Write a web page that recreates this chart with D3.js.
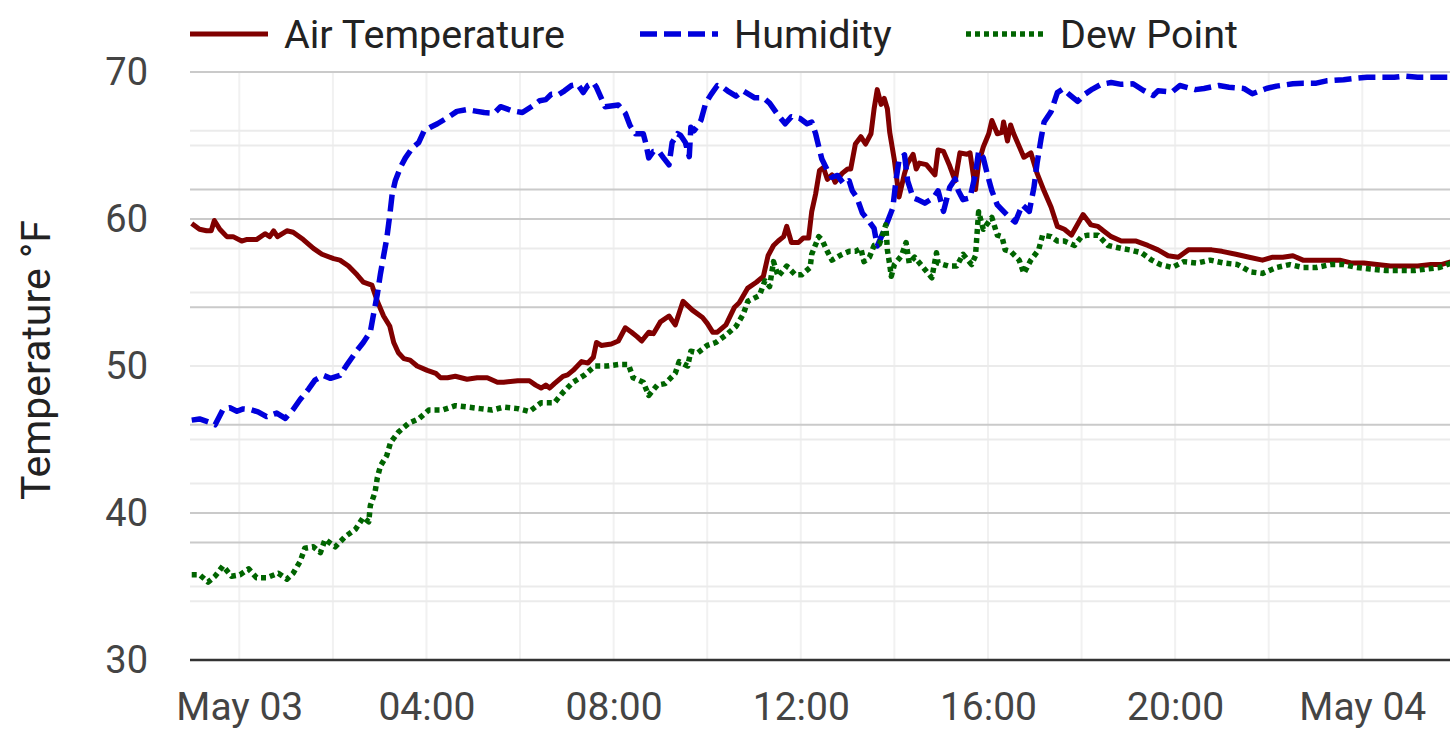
<!DOCTYPE html>
<html>
<head>
<meta charset="utf-8">
<script src="https://cdn.jsdelivr.net/npm/d3@7"></script>
<style>
  html, body { margin: 0; padding: 0; background: #fff; }
  svg { display: block; font-family: Roboto, "Noto Sans", sans-serif; }
</style>
</head>
<body>
<div id="chart"></div>
<script>
// readings: [time, value]
const airTemperature = [
  ["05-02 22:59", 59.7], ["05-02 23:09", 59.3], ["05-02 23:18", 59.2], ["05-02 23:24", 59.2],
  ["05-02 23:28", 59.9], ["05-02 23:35", 59.3], ["05-02 23:44", 58.8], ["05-02 23:52", 58.8],
  ["05-03 00:03", 58.5], ["05-03 00:09", 58.6], ["05-03 00:22", 58.6], ["05-03 00:33", 59.0],
  ["05-03 00:39", 58.8], ["05-03 00:44", 59.2], ["05-03 00:49", 58.8], ["05-03 01:01", 59.2],
  ["05-03 01:09", 59.1], ["05-03 01:22", 58.6], ["05-03 01:35", 58.0], ["05-03 01:46", 57.6],
  ["05-03 02:01", 57.3], ["05-03 02:09", 57.2], ["05-03 02:20", 56.8], ["05-03 02:31", 56.2],
  ["05-03 02:39", 55.7], ["05-03 02:50", 55.5], ["05-03 02:57", 54.4], ["05-03 03:05", 53.4],
  ["05-03 03:13", 52.7], ["05-03 03:18", 51.6], ["05-03 03:24", 50.9], ["05-03 03:31", 50.5],
  ["05-03 03:39", 50.4], ["05-03 03:48", 50.0], ["05-03 04:01", 49.7], ["05-03 04:12", 49.5],
  ["05-03 04:18", 49.2], ["05-03 04:27", 49.2], ["05-03 04:37", 49.3], ["05-03 04:52", 49.1],
  ["05-03 05:05", 49.2], ["05-03 05:18", 49.2], ["05-03 05:31", 48.9], ["05-03 05:39", 48.9],
  ["05-03 05:57", 49.0], ["05-03 06:12", 49.0], ["05-03 06:20", 48.7], ["05-03 06:27", 48.5],
  ["05-03 06:33", 48.7], ["05-03 06:38", 48.5], ["05-03 06:44", 48.8], ["05-03 06:55", 49.3],
  ["05-03 07:01", 49.4], ["05-03 07:08", 49.7], ["05-03 07:19", 50.3], ["05-03 07:27", 50.2],
  ["05-03 07:34", 50.6], ["05-03 07:38", 51.6], ["05-03 07:44", 51.4], ["05-03 07:57", 51.5],
  ["05-03 08:06", 51.7], ["05-03 08:15", 52.6], ["05-03 08:23", 52.3], ["05-03 08:30", 52.0],
  ["05-03 08:36", 51.7], ["05-03 08:45", 52.3], ["05-03 08:51", 52.2], ["05-03 09:00", 53.0],
  ["05-03 09:11", 53.4], ["05-03 09:19", 52.8], ["05-03 09:29", 54.4], ["05-03 09:41", 53.8],
  ["05-03 09:54", 53.3], ["05-03 10:00", 52.9], ["05-03 10:07", 52.3], ["05-03 10:13", 52.3],
  ["05-03 10:24", 52.8], ["05-03 10:35", 54.0], ["05-03 10:41", 54.3], ["05-03 10:52", 55.3],
  ["05-03 11:03", 55.7], ["05-03 11:12", 56.1], ["05-03 11:18", 57.5], ["05-03 11:25", 58.2],
  ["05-03 11:31", 58.5], ["05-03 11:38", 58.8], ["05-03 11:42", 59.5], ["05-03 11:48", 58.4],
  ["05-03 11:57", 58.4], ["05-03 12:03", 58.7], ["05-03 12:10", 58.7], ["05-03 12:14", 60.5],
  ["05-03 12:19", 61.7], ["05-03 12:24", 63.3], ["05-03 12:29", 63.5], ["05-03 12:34", 62.7],
  ["05-03 12:40", 63.0], ["05-03 12:44", 62.5], ["05-03 12:53", 63.1], ["05-03 13:00", 63.4],
  ["05-03 13:04", 63.4], ["05-03 13:10", 65.1], ["05-03 13:17", 65.6], ["05-03 13:23", 65.1],
  ["05-03 13:30", 65.8], ["05-03 13:34", 67.5], ["05-03 13:38", 68.8], ["05-03 13:43", 67.8],
  ["05-03 13:47", 68.2], ["05-03 13:51", 67.5], ["05-03 13:54", 65.9], ["05-03 14:00", 64.0],
  ["05-03 14:06", 61.5], ["05-03 14:13", 63.1], ["05-03 14:17", 63.8], ["05-03 14:24", 64.4],
  ["05-03 14:28", 63.4], ["05-03 14:32", 63.8], ["05-03 14:41", 63.7], ["05-03 14:52", 63.0],
  ["05-03 14:56", 64.7], ["05-03 15:03", 64.6], ["05-03 15:11", 63.6], ["05-03 15:18", 62.6],
  ["05-03 15:24", 64.5], ["05-03 15:33", 64.4], ["05-03 15:37", 64.5], ["05-03 15:44", 62.0],
  ["05-03 15:48", 63.8], ["05-03 15:54", 64.9], ["05-03 16:01", 65.8], ["05-03 16:05", 66.7],
  ["05-03 16:12", 65.8], ["05-03 16:18", 65.9], ["05-03 16:20", 66.6], ["05-03 16:25", 65.3],
  ["05-03 16:29", 66.4], ["05-03 16:33", 65.8], ["05-03 16:42", 64.7], ["05-03 16:46", 64.2],
  ["05-03 16:55", 64.5], ["05-03 17:03", 63.1], ["05-03 17:12", 61.9], ["05-03 17:21", 60.8],
  ["05-03 17:29", 59.5], ["05-03 17:38", 59.3], ["05-03 17:47", 58.9], ["05-03 18:02", 60.3],
  ["05-03 18:12", 59.6], ["05-03 18:21", 59.5], ["05-03 18:28", 59.2], ["05-03 18:38", 58.8],
  ["05-03 18:51", 58.5], ["05-03 19:10", 58.5], ["05-03 19:25", 58.2], ["05-03 19:38", 57.9],
  ["05-03 19:51", 57.5], ["05-03 20:04", 57.4], ["05-03 20:17", 57.9], ["05-03 20:35", 57.9],
  ["05-03 20:47", 57.9], ["05-03 21:00", 57.8], ["05-03 21:18", 57.6], ["05-03 21:35", 57.4],
  ["05-03 21:52", 57.2], ["05-03 22:05", 57.4], ["05-03 22:18", 57.4], ["05-03 22:31", 57.5],
  ["05-03 22:44", 57.2], ["05-03 22:57", 57.2], ["05-03 23:14", 57.2], ["05-03 23:31", 57.2],
  ["05-03 23:47", 57.0], ["05-04 00:02", 57.0], ["05-04 00:19", 56.9], ["05-04 00:36", 56.8],
  ["05-04 00:54", 56.8], ["05-04 01:11", 56.8], ["05-04 01:28", 56.9], ["05-04 01:41", 56.9],
  ["05-04 01:54", 57.1]
];

// relative humidity, % (own axis, 0-100)
const humidity = [
  ["05-02 22:59", 40.8], ["05-02 23:09", 41.0], ["05-02 23:22", 40.4], ["05-02 23:29", 40.0],
  ["05-02 23:39", 42.6], ["05-02 23:48", 42.9], ["05-02 23:57", 42.3], ["05-03 00:05", 42.7],
  ["05-03 00:14", 42.6], ["05-03 00:24", 42.2], ["05-03 00:35", 41.4], ["05-03 00:48", 42.0],
  ["05-03 00:59", 41.1], ["05-03 01:09", 42.6], ["05-03 01:18", 44.3], ["05-03 01:29", 46.1],
  ["05-03 01:37", 47.6], ["05-03 01:48", 48.4], ["05-03 01:57", 47.9], ["05-03 02:09", 48.4],
  ["05-03 02:18", 50.2], ["05-03 02:29", 52.3], ["05-03 02:39", 54.0], ["05-03 02:48", 55.8],
  ["05-03 02:52", 58.7], ["05-03 02:57", 62.2], ["05-03 03:01", 65.7], ["05-03 03:05", 68.7],
  ["05-03 03:09", 71.6], ["05-03 03:13", 75.7], ["05-03 03:16", 79.2], ["05-03 03:20", 81.5],
  ["05-03 03:27", 83.9], ["05-03 03:33", 85.4], ["05-03 03:42", 87.1], ["05-03 03:50", 88.0],
  ["05-03 03:57", 90.0], ["05-03 04:05", 90.6], ["05-03 04:14", 91.2], ["05-03 04:29", 92.4],
  ["05-03 04:39", 93.3], ["05-03 04:52", 93.6], ["05-03 05:05", 93.3], ["05-03 05:14", 93.1],
  ["05-03 05:27", 93.0], ["05-03 05:35", 94.1], ["05-03 05:50", 93.4], ["05-03 06:03", 93.1],
  ["05-03 06:18", 94.4], ["05-03 06:25", 95.1], ["05-03 06:33", 95.3], ["05-03 06:40", 96.2],
  ["05-03 06:50", 96.2], ["05-03 06:57", 96.8], ["05-03 07:06", 97.7], ["05-03 07:14", 97.9],
  ["05-03 07:21", 96.5], ["05-03 07:27", 97.7], ["05-03 07:34", 98.2], ["05-03 07:38", 97.4],
  ["05-03 07:44", 95.6], ["05-03 07:49", 94.1], ["05-03 08:06", 94.4], ["05-03 08:15", 93.0],
  ["05-03 08:21", 90.9], ["05-03 08:28", 89.5], ["05-03 08:38", 89.5], ["05-03 08:41", 88.0],
  ["05-03 08:45", 85.4], ["05-03 08:51", 86.5], ["05-03 08:58", 86.5], ["05-03 09:04", 85.4],
  ["05-03 09:11", 84.2], ["05-03 09:15", 88.0], ["05-03 09:22", 89.5], ["05-03 09:26", 89.2],
  ["05-03 09:32", 88.0], ["05-03 09:37", 85.6], ["05-03 09:39", 90.6], ["05-03 09:43", 90.0],
  ["05-03 09:48", 90.9], ["05-03 09:52", 91.8], ["05-03 09:58", 94.7], ["05-03 10:05", 96.2],
  ["05-03 10:13", 97.7], ["05-03 10:20", 97.4], ["05-03 10:26", 96.8], ["05-03 10:37", 95.9],
  ["05-03 10:46", 96.8], ["05-03 11:01", 95.6], ["05-03 11:12", 95.6], ["05-03 11:20", 94.7],
  ["05-03 11:29", 93.0], ["05-03 11:40", 91.2], ["05-03 11:48", 92.4], ["05-03 11:59", 92.1],
  ["05-03 12:08", 91.2], ["05-03 12:14", 91.5], ["05-03 12:19", 89.5], ["05-03 12:23", 87.3],
  ["05-03 12:27", 85.2], ["05-03 12:34", 83.3], ["05-03 12:40", 82.1], ["05-03 12:47", 82.4],
  ["05-03 12:55", 81.0], ["05-03 13:02", 81.5], ["05-03 13:06", 79.8], ["05-03 13:12", 78.6],
  ["05-03 13:19", 76.0], ["05-03 13:28", 74.5], ["05-03 13:34", 73.4], ["05-03 13:38", 70.4],
  ["05-03 13:45", 72.5], ["05-03 13:51", 74.5], ["05-03 13:58", 76.9], ["05-03 14:02", 81.5],
  ["05-03 14:06", 85.1], ["05-03 14:13", 85.9], ["05-03 14:17", 81.5], ["05-03 14:24", 78.6],
  ["05-03 14:30", 78.3], ["05-03 14:39", 77.7], ["05-03 14:50", 78.6], ["05-03 14:56", 79.8],
  ["05-03 15:03", 76.3], ["05-03 15:11", 80.4], ["05-03 15:18", 81.8], ["05-03 15:22", 79.8],
  ["05-03 15:28", 78.3], ["05-03 15:37", 78.6], ["05-03 15:44", 82.7], ["05-03 15:48", 86.5],
  ["05-03 15:54", 85.4], ["05-03 15:59", 82.7], ["05-03 16:05", 79.8], ["05-03 16:12", 77.4],
  ["05-03 16:20", 76.3], ["05-03 16:29", 75.1], ["05-03 16:35", 74.5], ["05-03 16:44", 77.4],
  ["05-03 16:53", 76.3], ["05-03 16:59", 80.4], ["05-03 17:03", 84.5], ["05-03 17:08", 88.6],
  ["05-03 17:12", 91.5], ["05-03 17:21", 93.3], ["05-03 17:29", 96.5], ["05-03 17:36", 97.1],
  ["05-03 17:44", 96.2], ["05-03 17:55", 95.0], ["05-03 18:04", 96.2], ["05-03 18:14", 97.1],
  ["05-03 18:25", 97.9], ["05-03 18:38", 98.2], ["05-03 18:51", 97.9], ["05-03 19:06", 98.0],
  ["05-03 19:19", 96.9], ["05-03 19:32", 96.0], ["05-03 19:38", 96.8], ["05-03 19:56", 96.6],
  ["05-03 20:06", 97.7], ["05-03 20:26", 97.0], ["05-03 20:37", 97.2], ["05-03 20:56", 97.7],
  ["05-03 21:09", 97.4], ["05-03 21:28", 97.2], ["05-03 21:39", 96.3], ["05-03 21:57", 97.2],
  ["05-03 22:10", 97.6], ["05-03 22:31", 98.0], ["05-03 22:44", 98.1], ["05-03 23:01", 98.1],
  ["05-03 23:14", 98.5], ["05-03 23:36", 98.7], ["05-03 23:49", 98.9], ["05-04 00:06", 99.1],
  ["05-04 00:23", 99.1], ["05-04 00:41", 99.1], ["05-04 00:54", 99.3], ["05-04 01:11", 99.1],
  ["05-04 01:28", 99.1], ["05-04 01:45", 99.1], ["05-04 01:54", 99.1]
];

const dewPoint = [
  ["05-02 22:59", 35.8], ["05-02 23:09", 35.8], ["05-02 23:20", 35.3], ["05-02 23:29", 35.7],
  ["05-02 23:39", 36.4], ["05-02 23:50", 35.7], ["05-03 00:01", 35.8], ["05-03 00:12", 36.2],
  ["05-03 00:22", 35.6], ["05-03 00:35", 35.6], ["05-03 00:50", 35.9], ["05-03 01:01", 35.5],
  ["05-03 01:09", 35.9], ["05-03 01:18", 36.7], ["05-03 01:24", 37.6], ["05-03 01:35", 37.7],
  ["05-03 01:44", 37.3], ["05-03 01:50", 38.2], ["05-03 02:03", 37.7], ["05-03 02:16", 38.4],
  ["05-03 02:29", 38.9], ["05-03 02:39", 39.7], ["05-03 02:46", 39.4], ["05-03 02:48", 40.5],
  ["05-03 02:54", 41.4], ["05-03 02:57", 42.4], ["05-03 03:01", 43.2], ["05-03 03:09", 43.9],
  ["05-03 03:14", 44.8], ["05-03 03:24", 45.5], ["05-03 03:37", 46.1], ["05-03 03:50", 46.4],
  ["05-03 04:03", 47.0], ["05-03 04:20", 47.0], ["05-03 04:37", 47.3], ["05-03 04:54", 47.2],
  ["05-03 05:09", 47.1], ["05-03 05:24", 47.0], ["05-03 05:39", 47.2], ["05-03 05:57", 47.1],
  ["05-03 06:12", 46.9], ["05-03 06:27", 47.5], ["05-03 06:44", 47.5], ["05-03 06:55", 48.2],
  ["05-03 07:08", 48.9], ["05-03 07:23", 49.4], ["05-03 07:36", 50.0], ["05-03 07:51", 50.0],
  ["05-03 08:06", 50.1], ["05-03 08:19", 50.1], ["05-03 08:25", 49.2], ["05-03 08:38", 48.9],
  ["05-03 08:45", 48.0], ["05-03 08:56", 48.7], ["05-03 09:06", 48.8], ["05-03 09:19", 49.5],
  ["05-03 09:24", 50.3], ["05-03 09:35", 50.0], ["05-03 09:39", 51.0], ["05-03 09:48", 50.9],
  ["05-03 10:00", 51.4], ["05-03 10:11", 51.6], ["05-03 10:24", 52.1], ["05-03 10:37", 52.7],
  ["05-03 10:46", 53.5], ["05-03 10:52", 54.4], ["05-03 11:07", 54.8], ["05-03 11:14", 55.8],
  ["05-03 11:20", 55.4], ["05-03 11:25", 57.1], ["05-03 11:31", 56.1], ["05-03 11:42", 56.8],
  ["05-03 11:53", 56.2], ["05-03 12:01", 56.2], ["05-03 12:12", 56.7], ["05-03 12:14", 57.6],
  ["05-03 12:23", 58.8], ["05-03 12:27", 58.6], ["05-03 12:34", 57.8], ["05-03 12:40", 57.2],
  ["05-03 12:53", 57.6], ["05-03 13:02", 57.8], ["05-03 13:10", 57.8], ["05-03 13:17", 58.0],
  ["05-03 13:21", 57.1], ["05-03 13:28", 57.4], ["05-03 13:34", 58.2], ["05-03 13:41", 58.3],
  ["05-03 13:49", 59.6], ["05-03 13:51", 57.9], ["05-03 13:54", 56.9], ["05-03 13:56", 56.1],
  ["05-03 14:00", 56.9], ["05-03 14:09", 57.5], ["05-03 14:15", 58.4], ["05-03 14:19", 57.0],
  ["05-03 14:26", 57.4], ["05-03 14:37", 56.7], ["05-03 14:48", 56.0], ["05-03 14:54", 57.7],
  ["05-03 14:56", 57.0], ["05-03 15:09", 56.8], ["05-03 15:20", 56.8], ["05-03 15:28", 57.6],
  ["05-03 15:39", 56.9], ["05-03 15:44", 57.5], ["05-03 15:48", 60.5], ["05-03 15:54", 59.3],
  ["05-03 16:05", 60.1], ["05-03 16:12", 58.9], ["05-03 16:18", 58.8], ["05-03 16:22", 57.9],
  ["05-03 16:29", 57.8], ["05-03 16:40", 57.2], ["05-03 16:46", 56.3], ["05-03 16:55", 57.2],
  ["05-03 17:05", 57.9], ["05-03 17:10", 58.9], ["05-03 17:21", 58.8], ["05-03 17:29", 58.5],
  ["05-03 17:38", 58.5], ["05-03 17:51", 58.2], ["05-03 18:00", 58.8], ["05-03 18:08", 58.9],
  ["05-03 18:21", 58.9], ["05-03 18:34", 58.2], ["05-03 18:51", 58.0], ["05-03 19:02", 57.9],
  ["05-03 19:17", 57.7], ["05-03 19:30", 57.2], ["05-03 19:41", 56.9], ["05-03 19:56", 56.7],
  ["05-03 20:11", 57.1], ["05-03 20:28", 57.0], ["05-03 20:45", 57.2], ["05-03 21:03", 57.0],
  ["05-03 21:20", 56.9], ["05-03 21:37", 56.4], ["05-03 21:52", 56.3], ["05-03 22:10", 56.7],
  ["05-03 22:27", 56.9], ["05-03 22:44", 56.7], ["05-03 23:01", 56.7], ["05-03 23:19", 56.9],
  ["05-03 23:36", 56.9], ["05-03 23:53", 56.7], ["05-04 00:10", 56.6], ["05-04 00:30", 56.5],
  ["05-04 00:47", 56.5], ["05-04 01:07", 56.5], ["05-04 01:22", 56.6], ["05-04 01:39", 56.7],
  ["05-04 01:54", 57.0]
];

const tempTicks = [30, 40, 50, 60, 70];
const tempMinorTicks = [35, 45, 55, 65];
const humidityTicks = [20, 40, 60, 80, 100];
const humidityMinorTicks = [10, 30, 50, 70, 90];
const seriesNames = ["Air Temperature", "Humidity", "Dew Point"];
const yTitle = "Temperature °F";

const width = 1450;
const height = 747;
const plotLeft = 190;
const plotRight = 1450;
const plotTop = 72;
const plotBottom = 660;

const parseTime = d3.timeParse("%m-%d %H:%M");

/* Scales */
// midnight to midnight, the visible window runs a bit past both ends
const xScale = d3.scaleTime()
  .domain([parseTime("05-03 00:00"), parseTime("05-04 00:00")])
  .range([239.3, 1362.3]);

const yTemp = d3.scaleLinear().domain([30, 70]).range([plotBottom, plotTop]);
const yHum = d3.scaleLinear().domain([0, 100]).range([plotBottom, plotTop]);

const svg = d3.select('#chart')
  .append('svg')
  .attr('width', width)
  .attr('height', height);

svg.append('defs').append('clipPath').attr('id', 'plot-clip')
  .append('rect')
  .attr('x', plotLeft).attr('y', 0)
  .attr('width', plotRight - plotLeft).attr('height', plotBottom);

/* Grid */
const grid = svg.append('g').attr('class', 'grid');

const gridHours = d3.timeHour.every(2).range(xScale.invert(plotLeft), xScale.invert(plotRight));
grid.selectAll('.vline')
  .data(gridHours)
  .enter()
  .append('line')
  .attr('x1', (d) => xScale(d)).attr('x2', (d) => xScale(d))
  .attr('y1', plotTop).attr('y2', plotBottom)
  .style('stroke', '#f1f1f1')
  .style('stroke-width', 2);

const hline = (values, scale, color) => {
  grid.append('g')
    .selectAll('line')
    .data(values)
    .enter()
    .append('line')
    .attr('x1', plotLeft).attr('x2', plotRight)
    .attr('y1', (d) => scale(d)).attr('y2', (d) => scale(d))
    .style('stroke', color)
    .style('stroke-width', 2);
};
hline(tempMinorTicks, yTemp, '#ebebeb');
hline(tempTicks.slice(1), yTemp, '#cacaca');
hline(humidityMinorTicks, yHum, '#ebebeb');
hline(humidityTicks, yHum, '#cacaca');

/* Lines */
const line = d3.line()
  .x((d) => xScale(parseTime(d[0])))
  .curve(d3.curveLinear);

const series = [
  { name: seriesNames[0], data: airTemperature, y: yTemp, color: '#800000', dash: null, w: 5 },
  { name: seriesNames[1], data: humidity, y: yHum, color: '#0000dc', dash: '17,7', w: 5.5 },
  { name: seriesNames[2], data: dewPoint, y: yTemp, color: '#006400', dash: '5,4', w: 5.5 }
];

const lines = svg.append('g').attr('clip-path', 'url(#plot-clip)');
series.forEach((s) => {
  lines.append('path')
    .attr('d', line.y((d) => s.y(d[1]))(s.data))
    .style('fill', 'none')
    .style('stroke', s.color)
    .style('stroke-width', s.w)
    .style('stroke-dasharray', s.dash)
    .attr('stroke-linejoin', 'round');
});

/* Axes */
const xAxis = d3.axisBottom(xScale)
  .tickValues(d3.timeHour.every(4).range(parseTime("05-03 00:00"), d3.timeMinute.offset(parseTime("05-04 00:00"), 1)))
  .tickFormat((d) => d.getHours() === 0 ? d3.timeFormat('%b %d')(d) : d3.timeFormat('%H:%M')(d))
  .tickSize(0)
  .tickPadding(32);

const gx = svg.append('g')
  .attr('transform', `translate(0, ${plotBottom})`)
  .call(xAxis);
gx.select('.domain').remove();
gx.selectAll('text')
  .style('font-family', 'Roboto')
  .style('font-size', '39px')
  .attr('fill', '#444');

svg.append('line')
  .attr('x1', plotLeft).attr('x2', plotRight)
  .attr('y1', plotBottom).attr('y2', plotBottom)
  .style('stroke', '#333')
  .style('stroke-width', 2.5);

const yAxis = d3.axisLeft(yTemp)
  .tickValues(tempTicks)
  .tickSize(0)
  .tickPadding(42);

const gy = svg.append('g')
  .attr('transform', `translate(${plotLeft}, 0)`)
  .call(yAxis);
gy.select('.domain').remove();
gy.selectAll('text')
  .style('font-family', 'Roboto')
  .style('font-size', '38px')
  .attr('fill', '#444');

svg.append('text')
  .attr('transform', 'translate(50, 360) rotate(-90)')
  .attr('text-anchor', 'middle')
  .style('font-size', '41px')
  .attr('fill', '#222')
  .text(yTitle);

/* Legend */
const legendX = [190, 640, 966];
const legend = svg.append('g').attr('class', 'legend');
series.forEach((s, i) => {
  const g = legend.append('g').attr('transform', `translate(${legendX[i]}, 34)`);
  g.append('line')
    .attr('x1', 0).attr('x2', 78)
    .style('stroke', s.color)
    .style('stroke-width', s.w)
    .style('stroke-dasharray', s.dash);
  g.append('text')
    .attr('x', 94)
    .attr('y', 14)
    .style('font-size', '39.5px')
    .attr('fill', '#222')
    .text(s.name);
});
</script>
</body>
</html>
